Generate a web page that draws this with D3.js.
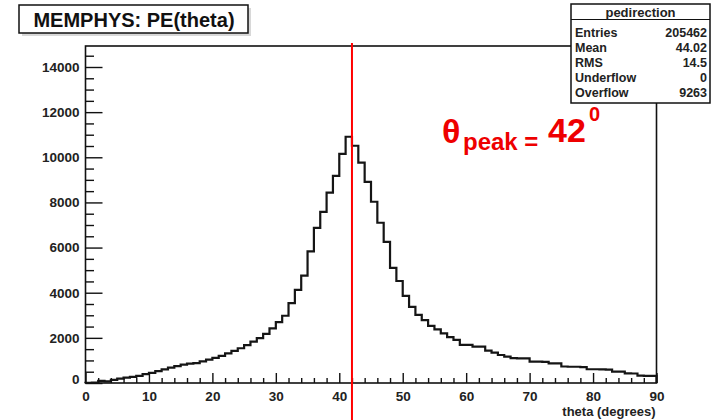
<!DOCTYPE html>
<html>
<head>
<meta charset="utf-8">
<script src="https://cdn.jsdelivr.net/npm/d3@7"></script>
<style>
  html, body { margin: 0; padding: 0; background: #fff; }
  svg { display: block; font-family: "Liberation Sans", Arial, Helvetica, sans-serif; }
</style>
</head>
<body>
<svg id="chart" width="715" height="420"></svg>
<script>
// PE(theta) histogram, 1-degree bins from 0 to 90 degrees
const binWidth = 1;
const counts = [
  5, 20, 90, 70, 140, 190, 240, 270, 320, 390,
  450, 530, 600, 680, 750, 810, 860, 880, 960, 1040,
  1110, 1200, 1310, 1420, 1540, 1680, 1830, 1990, 2180, 2420,
  2700, 2980, 3540, 4130, 4760, 5830, 6870, 7580, 8430, 9180,
  10150, 10910, 10510, 9760, 8910, 8030, 7100, 6250, 5100, 4520,
  3860, 3370, 3020, 2790, 2530, 2380, 2200, 2030, 1910, 1690,
  1690, 1610, 1610, 1430, 1350, 1240, 1170, 1100, 1090, 1090,
  950, 950, 940, 870, 870, 730, 720, 720, 700, 610,
  610, 600, 590, 500, 500, 430, 420, 330, 320, 320
];
const binLow = counts.map((_, i) => i * binWidth);

const xMajorTicks = [0, 10, 20, 30, 40, 50, 60, 70, 80, 90];
const yMajorTicks = [0, 2000, 4000, 6000, 8000, 10000, 12000, 14000];

const peakTheta = 42;
const titleText = "MEMPHYS: PE(theta)";
const xTitle = "theta (degrees)";
const statsName = "pedirection";
const statLabels = ["Entries", "Mean", "RMS", "Underflow", "Overflow"];
const statValues = ["205462", "44.02", "14.5", "0", "9263"];

const svg = d3.select("#chart");

const frame = { left: 85.5, right: 656.5, top: 46, bottom: 383 };
const x = d3.scaleLinear().domain([0, 90]).range([frame.left, frame.right]);
const y = d3.scaleLinear().domain([0, 14000]).range([frame.bottom, 67]);

// frame
svg.append("rect")
  .attr("x", frame.left).attr("y", frame.top)
  .attr("width", frame.right - frame.left).attr("height", frame.bottom - frame.top)
  .attr("fill", "none").attr("stroke", "#111").attr("stroke-width", 1.6);

// histogram outline as a step path
const pts = [[x(binLow[0]), y(0)]];
counts.forEach((c, i) => {
  pts.push([x(binLow[i]), y(c)]);
  pts.push([x(binLow[i] + binWidth), y(c)]);
});
pts.push([x(binLow[counts.length - 1] + binWidth), y(0)]);
svg.append("path")
  .attr("d", d3.line()(pts))
  .attr("fill", "none").attr("stroke", "#151515").attr("stroke-width", 2.2)
  .attr("stroke-linejoin", "miter");

const tickFont = g => g.selectAll("text")
  .attr("font-size", 13.5).attr("font-weight", "bold").attr("fill", "#222")
  .attr("font-family", "'Liberation Sans', Arial, sans-serif");

// y axis: minor ticks, then major ticks with labels (ticks point into the frame)
const yMinor = d3.range(0, 15000, 500).filter(v => v % 2000 !== 0);
svg.append("g").attr("transform", `translate(${frame.left},0)`)
  .call(d3.axisLeft(y).tickValues(yMinor).tickSizeInner(-8.5).tickSizeOuter(0).tickFormat(""))
  .call(g => g.select(".domain").remove())
  .call(g => g.selectAll("line").attr("stroke", "#111").attr("stroke-width", 1.4));
svg.append("g").attr("transform", `translate(${frame.left},0)`)
  .call(d3.axisLeft(y).tickValues(yMajorTicks).tickSizeInner(-17).tickSizeOuter(0)
    .tickPadding(6).tickFormat(d3.format("d")))
  .call(g => g.select(".domain").remove())
  .call(g => g.selectAll("line").attr("stroke", "#111").attr("stroke-width", 1.4))
  .call(tickFont)
  .call(g => g.selectAll("text").filter(d => d === 0).attr("dy", "0.05em"));

// x axis: minor ticks every 2 degrees, major every 10
const xMinor = d3.range(0, 91, 2).filter(v => v % 10 !== 0);
svg.append("g").attr("transform", `translate(0,${frame.bottom})`)
  .call(d3.axisBottom(x).tickValues(xMinor).tickSizeInner(-5).tickSizeOuter(0).tickFormat(""))
  .call(g => g.select(".domain").remove())
  .call(g => g.selectAll("line").attr("stroke", "#111").attr("stroke-width", 1.4));
svg.append("g").attr("transform", `translate(0,${frame.bottom})`)
  .call(d3.axisBottom(x).tickValues(xMajorTicks).tickSizeInner(-10).tickSizeOuter(0)
    .tickPadding(8).tickFormat(d3.format("d")))
  .call(g => g.select(".domain").remove())
  .call(g => g.selectAll("line").attr("stroke", "#111").attr("stroke-width", 1.4))
  .call(tickFont);

// x axis title
svg.append("text")
  .attr("x", frame.right - 1).attr("y", 416)
  .attr("text-anchor", "end")
  .attr("font-size", 13).attr("font-weight", "bold").attr("fill", "#222")
  .text(xTitle);

// peak marker
svg.append("line")
  .attr("x1", x(peakTheta)).attr("x2", x(peakTheta))
  .attr("y1", 43).attr("y2", 420)
  .attr("stroke", "#ff0000").attr("stroke-width", 2);

const red = "#ee0000";
svg.append("text").attr("x", 442).attr("y", 143)
  .attr("font-size", 34).attr("font-weight", "bold").attr("fill", red).text("θ");
svg.append("text").attr("x", 463).attr("y", 150)
  .attr("font-size", 24).attr("font-weight", "bold").attr("fill", red).text("peak =");
svg.append("text").attr("x", 548).attr("y", 142)
  .attr("font-size", 34).attr("font-weight", "bold").attr("fill", red).text(String(peakTheta));
svg.append("text").attr("x", 589).attr("y", 121)
  .attr("font-size", 20).attr("font-weight", "bold").attr("fill", red).text("0");

// title box with drop shadow
svg.append("rect").attr("x", 22).attr("y", 8).attr("width", 229).attr("height", 28)
  .attr("fill", "#d8d8d8");
svg.append("rect").attr("x", 19).attr("y", 5).attr("width", 229).attr("height", 28)
  .attr("fill", "#fff").attr("stroke", "#111").attr("stroke-width", 1.5);
svg.append("text").attr("x", 134).attr("y", 26.5)
  .attr("text-anchor", "middle").attr("font-size", 20).attr("font-weight", "bold").attr("fill", "#111")
  .text(titleText);

// statistics box
const sb = { x: 571, y: 4, w: 139, h: 99 };
svg.append("rect").attr("x", sb.x).attr("y", sb.y).attr("width", sb.w).attr("height", sb.h)
  .attr("fill", "#fff").attr("stroke", "#111").attr("stroke-width", 1.5);
svg.append("line").attr("x1", sb.x).attr("x2", sb.x + sb.w).attr("y1", 19.5).attr("y2", 19.5)
  .attr("stroke", "#111").attr("stroke-width", 1.2);
svg.append("text").attr("x", sb.x + sb.w / 2).attr("y", 16.5)
  .attr("text-anchor", "middle").attr("font-size", 13).attr("font-weight", "bold").attr("fill", "#222")
  .text(statsName);
const rowY = d3.scalePoint().domain(statLabels).range([36.5, 97]);
svg.append("g").selectAll("text.lab").data(statLabels).join("text")
  .attr("x", sb.x + 4).attr("y", d => rowY(d))
  .attr("font-size", 12.5).attr("font-weight", "bold").attr("fill", "#222")
  .text(d => d);
svg.append("g").selectAll("text.val").data(statValues).join("text")
  .attr("x", sb.x + sb.w - 3).attr("y", (d, i) => rowY(statLabels[i]))
  .attr("text-anchor", "end")
  .attr("font-size", 12.5).attr("font-weight", "bold").attr("fill", "#222")
  .text(d => d);
</script>
</body>
</html>
